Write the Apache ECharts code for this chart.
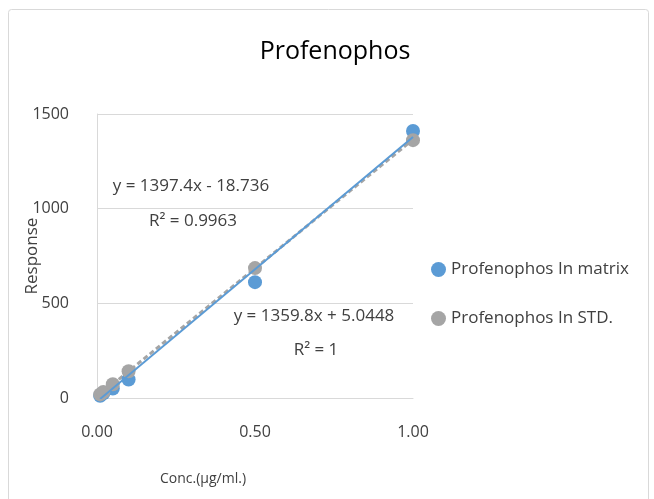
<!DOCTYPE html>
<html>
<head>
<meta charset="utf-8">
<script src="https://cdn.jsdelivr.net/npm/echarts@6/dist/echarts.min.js"></script>
<style>
  html, body { margin: 0; padding: 0; background: #fff; }
  #chart { width: 654px; height: 499px; }
</style>
</head>
<body>
<div id="chart"></div>
<script>
// Calibration data: concentration (µg/ml) vs. detector response
const concentrations = [0.01, 0.02, 0.05, 0.1, 0.5, 1.0];
const matrixResponse = [12, 25, 50, 98, 612, 1410];
const stdResponse = [19, 32, 73, 141, 686, 1362];

// Linear trendline coefficients [slope, intercept, R²]
const matrixFit = [1397.4, -18.736, 0.9963];
const stdFit = [1359.8, 5.0448, 1];

const xTicks = ['0.00', '0.50', '1.00'];
const seriesNames = ['Profenophos In matrix', 'Profenophos In STD.'];

const FONT = '"Open Sans", "Noto Sans", sans-serif';
const BLUE = '#5b9bd5';
const GRAY = '#a5a5a5';

function pairs(xs, ys) { return xs.map((x, i) => [x, ys[i]]); }
function fitLine(fit) {
  const x0 = concentrations[0], x1 = concentrations[concentrations.length - 1];
  return [[x0, fit[0] * x0 + fit[1]], [x1, fit[0] * x1 + fit[1]]];
}
function eqText(fit) {
  const sign = fit[1] < 0 ? ' - ' : ' + ';
  return 'y = ' + fit[0] + 'x' + sign + Math.abs(fit[1]);
}

const chart = echarts.init(document.getElementById('chart'), null, { renderer: 'canvas' });

const eqStyle = (text) => ({ text, font: '17px ' + FONT, fill: '#404040', textAlign: 'center' });

chart.setOption({
  animation: false,
  backgroundColor: '#fff',
  title: {
    text: 'Profenophos',
    left: 330, top: 34, textAlign: 'center',
    textStyle: { fontFamily: FONT, fontSize: 25, fontWeight: 'normal', color: '#000' }
  },
  grid: { left: 97, right: 241, top: 114, bottom: 101 },
  xAxis: {
    type: 'value', min: 0, max: 1, interval: 0.5,
    name: 'Conc.(µg/ml.)', nameLocation: 'middle', nameGap: 74,
    nameTextStyle: { fontFamily: FONT, fontSize: 14, color: '#404040', padding: [0, 104, 0, 0] },
    axisLine: { show: true, lineStyle: { color: '#d9d9d9', width: 1 } },
    axisTick: { show: false },
    axisLabel: {
      margin: 26, fontFamily: FONT, fontSize: 16, color: '#404040',
      formatter: v => xTicks[Math.round(v / 0.5)]
    },
    splitLine: { show: false }
  },
  yAxis: {
    type: 'value', min: 0, max: 1500, interval: 500,
    name: 'Response', nameLocation: 'middle', nameGap: 56, nameRotate: 90,
    nameMoveOverlap: false,
    nameTextStyle: { fontFamily: FONT, fontSize: 17, color: '#404040' },
    axisLine: { show: true, lineStyle: { color: '#d9d9d9', width: 1 } },
    axisTick: { show: false },
    axisLabel: { margin: 28, fontFamily: FONT, fontSize: 16, color: '#404040', formatter: v => String(v) },
    splitLine: { show: true, lineStyle: { color: '#d9d9d9', width: 1 } }
  },
  legend: {
    orient: 'vertical', left: 426, top: 256, itemGap: 32,
    icon: 'circle', itemWidth: 15, itemHeight: 15,
    textStyle: { fontFamily: FONT, fontSize: 17, color: '#404040' },
    data: [
      { name: seriesNames[0], itemStyle: { color: BLUE } },
      { name: seriesNames[1], itemStyle: { color: GRAY } }
    ]
  },
  series: [
    {
      name: seriesNames[1], type: 'line', data: fitLine(stdFit),
      symbol: 'none', z: 3, silent: true,
      lineStyle: { color: GRAY, width: 3, type: [5, 3] }
    },
    {
      name: seriesNames[0], type: 'scatter', data: pairs(concentrations, matrixResponse),
      symbolSize: 14, itemStyle: { color: BLUE, opacity: 1 }, z: 4
    },
    {
      name: seriesNames[1], type: 'scatter', data: pairs(concentrations, stdResponse),
      symbolSize: 14, itemStyle: { color: GRAY, opacity: 1 }, z: 5
    },
    {
      name: seriesNames[0], type: 'line', data: fitLine(matrixFit),
      symbol: 'none', z: 6, silent: true,
      lineStyle: { color: BLUE, width: 2 }
    }
  ],
  graphic: [
    {
      type: 'rect', shape: { x: 8.5, y: 9.5, width: 640, height: 520, r: 3 },
      style: { fill: 'none', stroke: '#d9d9d9', lineWidth: 1 }, z: -10, silent: true
    },
    { type: 'text', x: 191, y: 178, style: eqStyle(eqText(matrixFit)) },
    { type: 'text', x: 193, y: 213, style: eqStyle('R² = ' + matrixFit[2]) },
    { type: 'text', x: 314, y: 308, style: eqStyle(eqText(stdFit)) },
    { type: 'text', x: 316, y: 342, style: eqStyle('R² = ' + stdFit[2]) }
  ]
});
</script>
</body>
</html>
